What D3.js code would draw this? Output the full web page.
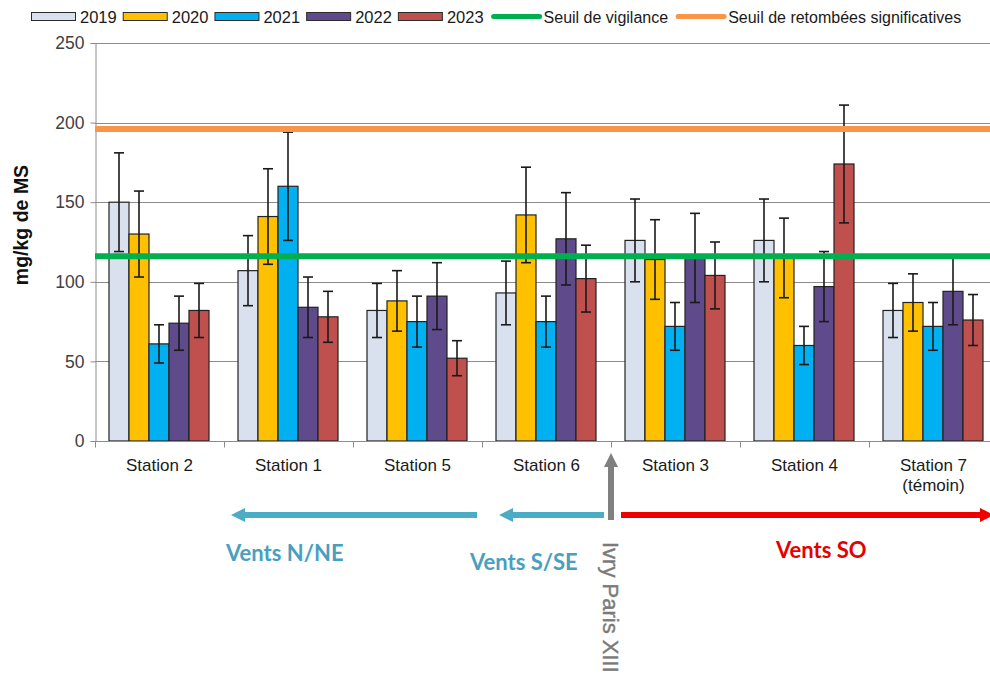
<meta charset="utf-8">
<script src="https://cdn.jsdelivr.net/npm/d3@7"></script>
<style>
  body { margin: 0; background: #fff; }
  text { font-family: "Liberation Sans", Arial, sans-serif; }
  .wind { font-family: Lato, "Open Sans", sans-serif; font-weight: bold; }
</style>
<div id="chart"></div>
<script>
// stations, left to right
var stations = ["Station 2", "Station 1", "Station 5", "Station 6", "Station 3", "Station 4", "Station 7 (témoin)"];
var years = ["2019", "2020", "2021", "2022", "2023"];

// mean values (mg/kg de MS)
var v2019 = [150, 107, 82, 93, 126, 126, 82];
var v2020 = [130, 141, 88, 142, 114, 115, 87];
var v2021 = [61, 160, 75, 75, 72, 60, 72];
var v2022 = [74, 84, 91, 127, 115, 97, 94];
var v2023 = [82, 78, 52, 102, 104, 174, 76];

// error bar half-widths
var e2019 = [31, 22, 17, 20, 26, 26, 17];
var e2020 = [27, 30, 19, 30, 25, 25, 18];
var e2021 = [12, 34, 16, 16, 15, 12, 15];
var e2022 = [17, 19, 21, 29, 28, 22, 21];
var e2023 = [17, 16, 11, 21, 21, 37, 16];

var seuilVigilance = 116;
var seuilRetombees = 196;
var yTicks = [0, 50, 100, 150, 200, 250];

var colors = ["#D9E1EE", "#FFC000", "#00B0F0", "#5F4B8B", "#C0504D"];
var vals = [v2019, v2020, v2021, v2022, v2023];
var errs = [e2019, e2020, e2021, e2022, e2023];

var W = 990, H = 677;
var pLeft = 95, pRight = 998, pTop = 43, pBottom = 441;

var svg = d3.select("#chart").append("svg")
  .attr("width", W).attr("height", H);

var x0 = d3.scaleBand().domain(stations).range([pLeft, pRight]);
var x1 = d3.scaleBand().domain(years).range([14, x0.bandwidth() - 15]);
var y = d3.scaleLinear().domain([0, 250]).range([pBottom, pTop]);

// grid
svg.append("g")
  .selectAll("line").data(yTicks.slice(1)).enter().append("line")
    .attr("x1", pLeft).attr("x2", W)
    .attr("y1", d => Math.round(y(d)) + 0.5).attr("y2", d => Math.round(y(d)) + 0.5)
    .attr("stroke", "#8c8c8c").attr("stroke-width", 1);

// y axis
var yAxis = svg.append("g")
  .attr("transform", "translate(" + (pLeft + 0.5) + ",0)")
  .call(d3.axisLeft(y).tickValues(yTicks).tickSize(5).tickPadding(6));
yAxis.select(".domain").attr("stroke", "#8c8c8c");
yAxis.selectAll(".tick line").attr("stroke", "#8c8c8c");
yAxis.selectAll("text").attr("font-size", 17.5).attr("fill", "#404040")
  .attr("font-family", "Liberation Sans, Arial, sans-serif");

svg.append("text")
  .attr("transform", "translate(28,225)rotate(-90)")
  .attr("text-anchor", "middle")
  .attr("font-size", 19.5).attr("font-weight", "bold").attr("fill", "#111")
  .text("mg/kg de MS");

// bars
var rows = [];
stations.forEach(function(s, i) {
  years.forEach(function(yr, j) {
    rows.push({station: s, year: yr, v: vals[j][i], e: errs[j][i], c: colors[j]});
  });
});

svg.append("g").selectAll("rect").data(rows).enter().append("rect")
  .attr("x", d => x0(d.station) + x1(d.year))
  .attr("y", d => y(d.v))
  .attr("width", x1.bandwidth())
  .attr("height", d => y(0) - y(d.v))
  .attr("fill", d => d.c)
  .attr("stroke", "#222").attr("stroke-width", 1.2);

// error bars
var eb = svg.append("g").attr("stroke", "#1a1a1a").attr("stroke-width", 1.6);
eb.selectAll(".v").data(rows).enter().append("line")
  .attr("x1", d => x0(d.station) + x1(d.year) + x1.bandwidth() / 2)
  .attr("x2", d => x0(d.station) + x1(d.year) + x1.bandwidth() / 2)
  .attr("y1", d => y(d.v + d.e)).attr("y2", d => y(d.v - d.e));
["top", "bot"].forEach(function(k) {
  eb.selectAll("." + k).data(rows).enter().append("line")
    .attr("x1", d => x0(d.station) + x1(d.year) + x1.bandwidth() / 2 - 5)
    .attr("x2", d => x0(d.station) + x1(d.year) + x1.bandwidth() / 2 + 5)
    .attr("y1", d => y(k == "top" ? d.v + d.e : d.v - d.e))
    .attr("y2", d => y(k == "top" ? d.v + d.e : d.v - d.e));
});

// x axis
var xAxis = svg.append("g").attr("transform", "translate(0," + (pBottom + 0.5) + ")");
xAxis.append("line").attr("x1", pLeft).attr("x2", W).attr("stroke", "#8c8c8c");
xAxis.selectAll(".tk").data(stations.concat(["end"])).enter().append("line")
  .attr("x1", (d, i) => pLeft + i * x0.bandwidth() + 0.5)
  .attr("x2", (d, i) => pLeft + i * x0.bandwidth() + 0.5)
  .attr("y1", 0).attr("y2", 6).attr("stroke", "#8c8c8c");
xAxis.selectAll(".lbl").data(stations).enter().append("text")
  .attr("x", d => x0(d) + x0.bandwidth() / 2)
  .attr("y", 29)
  .attr("text-anchor", "middle")
  .attr("font-size", 17).attr("fill", "#1a1a1a")
  .each(function(d) {
    var parts = d.split(" (");
    var t = d3.select(this);
    t.append("tspan").attr("x", x0(d) + x0.bandwidth() / 2).text(parts[0]);
    if (parts[1]) t.append("tspan").attr("x", x0(d) + x0.bandwidth() / 2).attr("dy", 20).text("(" + parts[1]);
  });

// threshold lines
svg.append("line").attr("x1", pLeft).attr("x2", W)
  .attr("y1", y(seuilVigilance)).attr("y2", y(seuilVigilance))
  .attr("stroke", "#00B050").attr("stroke-width", 6);
svg.append("line").attr("x1", pLeft).attr("x2", W)
  .attr("y1", y(seuilRetombees)).attr("y2", y(seuilRetombees))
  .attr("stroke", "#F79646").attr("stroke-width", 6);

// legend
var lg = svg.append("g");
var lx = 31, ly = 16.5;
years.forEach(function(yr, j) {
  lg.append("rect").attr("x", lx + 0.5).attr("y", ly - 4).attr("width", 44).attr("height", 8)
    .attr("fill", colors[j]).attr("stroke", "#2b2b2b").attr("stroke-width", 1);
  var t = lg.append("text").attr("x", lx + 49).attr("y", ly + 6)
    .attr("font-size", 16.5).attr("fill", "#1a1a1a").text(yr);
  lx += 49 + t.node().getComputedTextLength() + 6;
});
[["Seuil de vigilance", "#00B050"], ["Seuil de retombées significatives", "#F79646"]].forEach(function(it, k) {
  lx += k == 0 ? 2 : 8;
  lg.append("line").attr("x1", lx + 2).attr("x2", lx + 48).attr("y1", ly).attr("y2", ly)
    .attr("stroke", it[1]).attr("stroke-width", 5).attr("stroke-linecap", "round");
  var t = lg.append("text").attr("x", lx + 52).attr("y", ly + 6)
    .attr("font-size", 16).attr("fill", "#1a1a1a").text(it[0]);
  lx += 52 + t.node().getComputedTextLength();
});

// wind annotations
function arrow(x1a, y1a, x2a, y2a, col) {
  var ang = Math.atan2(y2a - y1a, x2a - x1a);
  var hl = 14, hw = 7;
  var bx = x2a - hl * Math.cos(ang), by = y2a - hl * Math.sin(ang);
  svg.append("line").attr("x1", x1a).attr("y1", y1a).attr("x2", bx).attr("y2", by)
    .attr("stroke", col).attr("stroke-width", 6);
  svg.append("path").attr("fill", col)
    .attr("d", d3.line()([
      [x2a, y2a],
      [bx + hw * Math.sin(ang), by - hw * Math.cos(ang)],
      [bx - hw * Math.sin(ang), by + hw * Math.cos(ang)]
    ]));
}
var ivryX = x0("Station 3");
var ay = 515;
arrow(x0("Station 6") - 5, ay, x0("Station 1") + 7, ay, "#4BACC6");
arrow(ivryX - 7, ay, x0("Station 6") + 17, ay, "#4BACC6");
arrow(ivryX + 10, ay, 994, ay, "#EE0000");
arrow(ivryX, 520, ivryX, 453, "#808080");

svg.append("text").attr("class", "wind").attr("x", 226).attr("y", 561)
  .attr("font-size", 22).attr("fill", "#4A9FBF").text("Vents N/NE");
svg.append("text").attr("class", "wind").attr("x", 470).attr("y", 570)
  .attr("font-size", 22).attr("fill", "#4A9FBF").text("Vents S/SE");
svg.append("text").attr("class", "wind").attr("x", 776).attr("y", 558)
  .attr("font-size", 22).attr("fill", "#E60000").text("Vents SO");
svg.append("text").attr("transform", "translate(" + (ivryX - 8) + ",542)rotate(90)")
  .attr("font-size", 22).attr("fill", "#7a7a7a").attr("stroke", "#7a7a7a").attr("stroke-width", 0.4)
  .text("Ivry Paris XIII");
</script>
